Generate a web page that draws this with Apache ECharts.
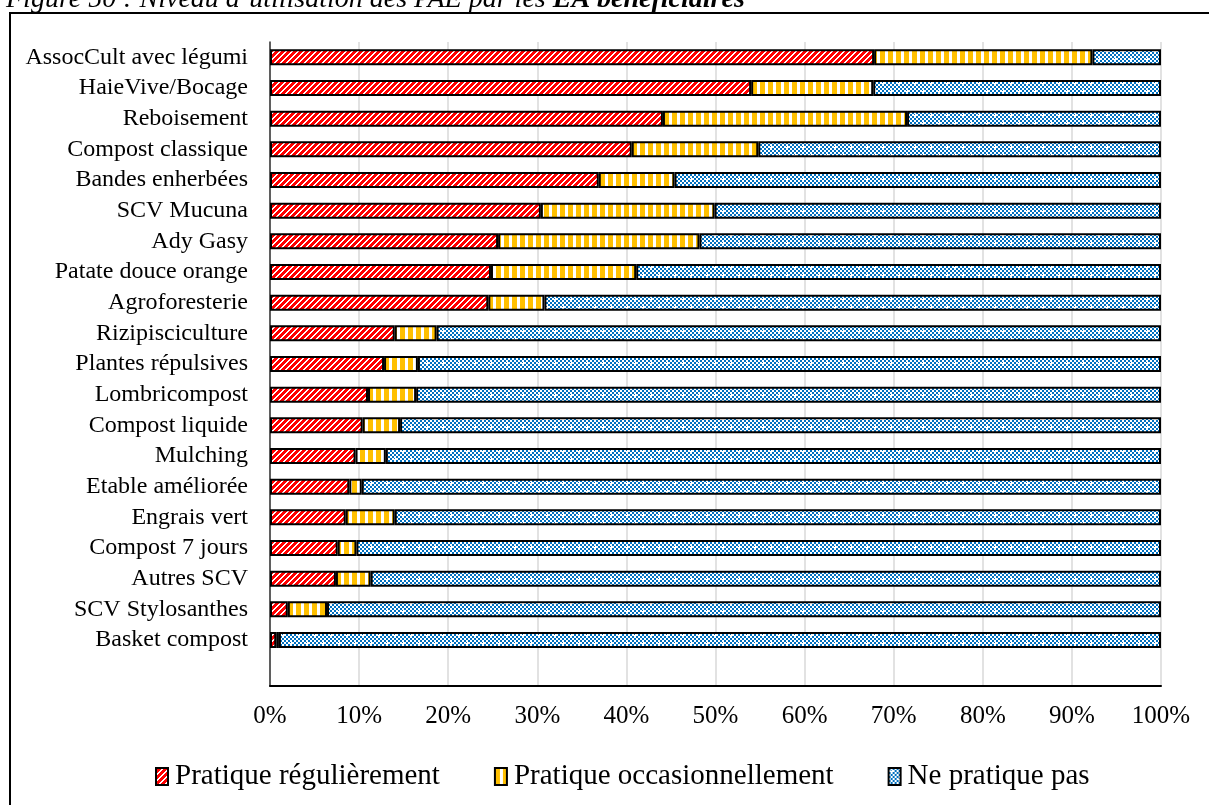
<!DOCTYPE html>
<html>
<head>
<meta charset="utf-8">
<script src="https://cdn.jsdelivr.net/npm/echarts@6/dist/echarts.min.js"></script>
<style>
  html, body { margin: 0; padding: 0; background: #fff; }
  #chart { width: 1209px; height: 805px; }
</style>
</head>
<body>
<div id="chart"></div>
<script>
// Practices (top to bottom); the trailing blank row leaves space above the axis
const categories = [
  'AssocCult avec légumi', 'HaieVive/Bocage', 'Reboisement', 'Compost classique',
  'Bandes enherbées', 'SCV Mucuna', 'Ady Gasy', 'Patate douce orange',
  'Agroforesterie', 'Rizipisciculture', 'Plantes répulsives', 'Lombricompost',
  'Compost liquide', 'Mulching', 'Etable améliorée', 'Engrais vert',
  'Compost 7 jours', 'Autres SCV', 'SCV Stylosanthes', 'Basket compost', ''
];

// Share of beneficiary farms (%)
const pratiqueReguliere = [67.8, 54.0, 44.1, 40.6, 36.9, 30.4, 25.6, 24.8, 24.5, 14.0,
                           12.8, 11.0, 10.4, 9.6, 8.9, 8.5, 7.6, 7.4, 2.0, 0.7];
const pratiqueOccasionnelle = [24.5, 13.7, 27.4, 14.2, 8.5, 19.5, 22.6, 16.3, 6.3, 4.7,
                               3.8, 5.4, 4.2, 3.4, 1.4, 5.5, 2.1, 3.9, 4.4, 0.3];
const nePratiquePas = [7.7, 32.3, 28.5, 45.2, 54.6, 50.1, 51.8, 58.9, 69.2, 81.3,
                       83.4, 83.6, 85.4, 87.0, 89.7, 86.0, 90.3, 88.7, 93.6, 99.0];

const seriesNames = ['Pratique régulièrement', 'Pratique occasionnellement', 'Ne pratique pas'];
const tickLabels = ['0%', '10%', '20%', '30%', '40%', '50%', '60%', '70%', '80%', '90%', '100%'];

const FONT = '"Liberation Serif", "Times New Roman", serif';

function tile(w, h, paint) {
  const c = document.createElement('canvas');
  c.width = w; c.height = h;
  paint(c.getContext('2d'));
  return c;
}

// Red with thin white "/" stripes
const hatchRed = tile(6, 6, ctx => {
  for (let y = 0; y < 6; y++) for (let x = 0; x < 6; x++) {
    ctx.fillStyle = ((x + y) % 6 < 2) ? '#ffffff' : '#ff0000';
    ctx.fillRect(x, y, 1, 1);
  }
});

// Yellow and white vertical stripes
const stripesYellow = tile(8, 4, ctx => {
  ctx.fillStyle = '#ffffff'; ctx.fillRect(0, 0, 8, 4);
  ctx.fillStyle = '#ffc000'; ctx.fillRect(0, 0, 5, 4);
});

// Blue checkerboard with small white crosses
const checkBlue = tile(16, 16, ctx => {
  for (let y = 0; y < 16; y++) for (let x = 0; x < 16; x++) {
    ctx.fillStyle = (((x >> 1) + (y >> 1)) % 2) ? '#ffffff' : '#0070c0';
    ctx.fillRect(x, y, 1, 1);
  }
  ctx.fillStyle = '#ffffff';
  [[3, 3], [11, 11]].forEach(([cx, cy]) => {
    ctx.fillRect(cx - 2, cy, 5, 1);
    ctx.fillRect(cx, cy - 2, 1, 5);
  });
});

const fills = [hatchRed, stripesYellow, checkBlue];
const values = [pratiqueReguliere, pratiqueOccasionnelle, nePratiquePas];

const chart = echarts.init(document.getElementById('chart'), null, { renderer: 'canvas' });

chart.setOption({
  animation: false,
  backgroundColor: '#ffffff',
  textStyle: { fontFamily: FONT },
  grid: { left: 270, right: 48, top: 42, bottom: 119, containLabel: false },
  xAxis: {
    type: 'value',
    min: 0, max: 100, interval: 10,
    axisLine: { show: true, lineStyle: { color: '#000', width: 2 } },
    axisTick: { show: false },
    splitLine: { show: true, lineStyle: { color: '#d9d9d9', width: 1.5 } },
    axisLabel: {
      margin: 18, fontSize: 25, color: '#000', fontFamily: FONT,
      formatter: v => tickLabels[Math.round(v / 10)]
    }
  },
  yAxis: {
    type: 'category',
    data: categories,
    inverse: true,
    axisLine: { show: true, lineStyle: { color: '#333', width: 1.5 } },
    axisTick: { show: false },
    splitLine: { show: false },
    axisLabel: { interval: 0, margin: 22, fontSize: 24, color: '#000', fontFamily: FONT }
  },
  legend: {
    left: 150, top: 757,
    itemWidth: 12, itemHeight: 17, itemGap: 54,
    icon: 'rect',
    selectedMode: false,
    textStyle: { fontSize: 29, color: '#000', fontFamily: FONT, padding: [0, 0, 0, 2] },
    data: seriesNames
  },
  series: seriesNames.map((name, i) => ({
    name,
    type: 'bar',
    stack: 'total',
    barWidth: 16,
    data: values[i],
    itemStyle: {
      color: { image: fills[i], repeat: 'repeat' },
      borderColor: '#000',
      borderWidth: 2
    },
    emphasis: { disabled: true }
  })),
  graphic: [
    {
      type: 'rect',
      silent: true,
      shape: { x: 10, y: 13, width: 1400, height: 1000 },
      style: { fill: 'none', stroke: '#000', lineWidth: 2 }
    },
    {
      type: 'text',
      silent: true,
      x: 6, y: 14,
      style: {
        text: "{n|Figure 50 : Niveau d’utilisation des PAE par les }{b|EA bénéficiaires}",
        textVerticalAlign: 'bottom',
        rich: {
          n: { fontFamily: FONT, fontStyle: 'italic', fontSize: 28, lineHeight: 28, fill: '#000' },
          b: { fontFamily: FONT, fontStyle: 'italic', fontWeight: 'bold', fontSize: 28, lineHeight: 28, fill: '#000' }
        }
      }
    }
  ]
});
</script>
</body>
</html>
